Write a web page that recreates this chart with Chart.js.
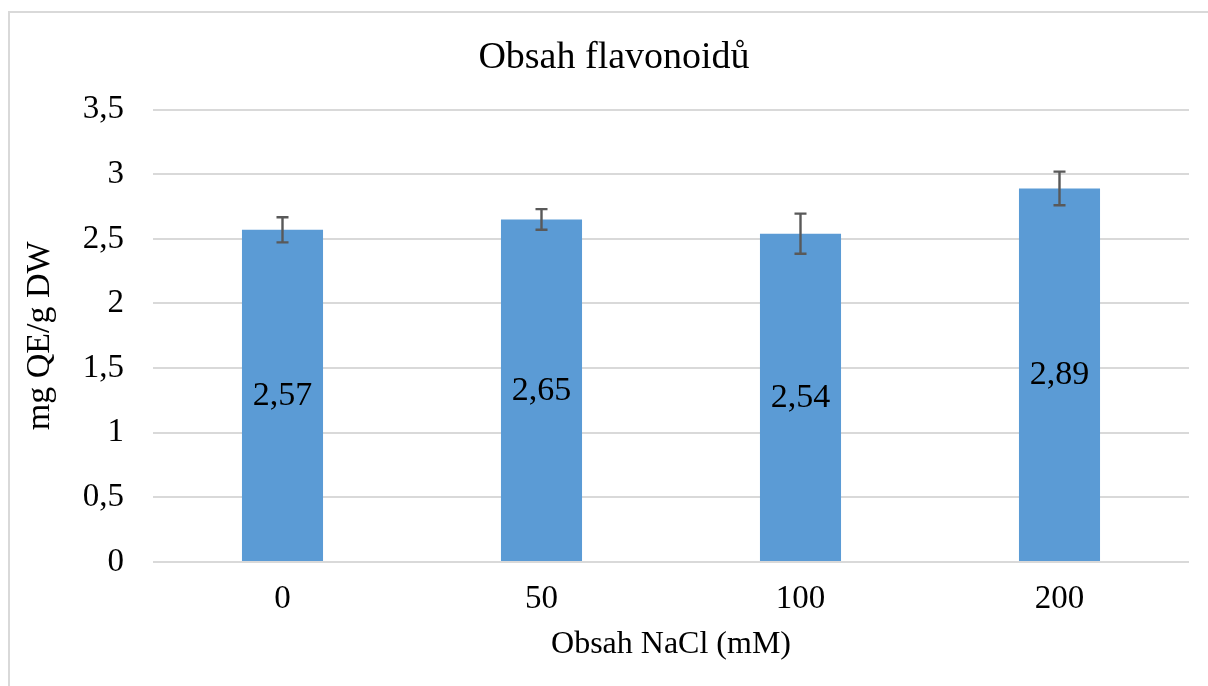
<!DOCTYPE html>
<html>
<head>
<meta charset="utf-8">
<script src="https://cdn.jsdelivr.net/npm/chart.js@4/dist/chart.umd.min.js"></script>
<style>
	html, body { margin: 0; padding: 0; background: #ffffff; }
	body { width: 1208px; height: 686px; overflow: hidden; position: relative; }
	.frame { position: absolute; left: 8px; top: 11px; width: 1220px; height: 700px; border: 2px solid #d9d9d9; box-sizing: border-box; }
	.chart-container { position: absolute; left: 0; top: 0; width: 1208px; height: 686px; }
</style>
</head>
<body>
<div class="frame"></div>
<div class="chart-container"><canvas id="chart-1"></canvas></div>
<script>

var categories = ['0', '50', '100', '200'];
var values = [2.57, 2.65, 2.54, 2.89];
var errors = [0.097, 0.08, 0.155, 0.13];
var labelTexts = ['2,57', '2,65', '2,54', '2,89'];

var serif = "'Liberation Serif', 'Times New Roman', serif";

//Draws the error bars and the value labels in the middle of the bars
var barExtras = {
	id: 'barExtras',
	afterDatasetsDraw: function(chart) {
		var ctx = chart.ctx;
		var yAxis = chart.scales.y;
		var meta = chart.getDatasetMeta(0);
		ctx.save();
		for (var i = 0; i < values.length; i++) {
			var bar = meta.data[i];
			var x = bar.x;
			var yTop = yAxis.getPixelForValue(values[i] + errors[i]);
			var yBot = yAxis.getPixelForValue(values[i] - errors[i]);
			ctx.strokeStyle = '#595959';
			ctx.lineWidth = 2.4;
			ctx.beginPath();
			ctx.moveTo(x, yTop);
			ctx.lineTo(x, yBot);
			ctx.moveTo(x - 6, yTop);
			ctx.lineTo(x + 6, yTop);
			ctx.moveTo(x - 6, yBot);
			ctx.lineTo(x + 6, yBot);
			ctx.stroke();

			var yMid = (yAxis.getPixelForValue(values[i]) + yAxis.getPixelForValue(0)) / 2;
			ctx.fillStyle = '#000000';
			ctx.font = '34px ' + serif;
			ctx.textAlign = 'center';
			ctx.textBaseline = 'middle';
			ctx.fillText(labelTexts[i], x, yMid);
		}
		ctx.restore();
	}
};

var data1 = {
	labels: categories,
	datasets: [{
		label: 'Obsah flavonoidů',
		backgroundColor: '#5b9bd5',
		data: values,
		categoryPercentage: 1,
		barPercentage: 0.313
	}]
};

var options1 = {
	maintainAspectRatio: false,
	responsive: true,
	animation: false,
	layout: {
		padding: { left: 39, right: 19, top: 0, bottom: 0 }
	},
	plugins: {
		legend: { display: false },
		tooltip: { enabled: false },
		title: {
			display: true,
			text: 'Obsah flavonoidů',
			color: '#000000',
			font: { family: serif, size: 38, weight: 'normal' },
			padding: { top: 35, bottom: 29 }
		}
	},
	scales: {
		x: {
			afterFit: function(scale) { scale.height = 124; },
			grid: { display: false, drawTicks: false },
			border: { display: false },
			ticks: {
				color: '#000000',
				padding: 18,
				font: { family: serif, size: 33 }
			},
			title: {
				display: true,
				text: 'Obsah NaCl (mM)',
				color: '#000000',
				font: { family: serif, size: 32 },
				padding: { top: 0, bottom: 22 }
			}
		},
		y: {
			min: 0,
			max: 3.5,
			afterFit: function(scale) { scale.width = 114; },
			grid: { color: '#d9d9d9', lineWidth: 2, drawTicks: false },
			border: { display: false },
			ticks: {
				stepSize: 0.5,
				color: '#000000',
				padding: 29,
				font: { family: serif, size: 33 },
				callback: function(v) { return String(v).replace('.', ','); }
			},
			title: {
				display: true,
				text: 'mg QE/g DW',
				color: '#000000',
				font: { family: serif, size: 34 },
				padding: { top: -19, bottom: 0 }
			}
		}
	}
};

var graph = new Chart('chart-1', {
	type: 'bar',
	data: data1,
	options: options1,
	plugins: [barExtras]
});

</script>
</body>
</html>
